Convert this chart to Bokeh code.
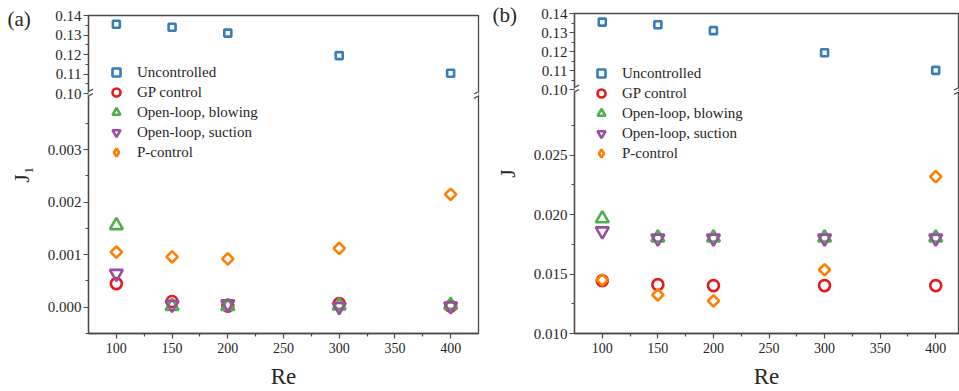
from bokeh.plotting import figure
from bokeh.layouts import row
from bokeh.models import Range1d, FixedTicker, Legend, LegendItem, Label, Arrow
from bokeh.embed import file_html
from bokeh.resources import INLINE
import math

# ---------------- data ----------------
re_vals = [100, 150, 200, 300, 400]
series_names = ["Uncontrolled", "GP control", "Open-loop, blowing",
                "Open-loop, suction", "P-control"]

# panel (a): J1
a_uncontrolled = [0.1355, 0.1340, 0.1310, 0.1195, 0.1105]
a_gp = [0.00045, 0.00011, 0.00002, 0.00007, 0.00002]
a_blowing = [0.00156, 0.00002, 0.00002, 0.00003, 0.00004]
a_suction = [0.00064, 0.00005, 0.00006, 0.00001, 0.00002]
a_pcontrol = [0.00105, 0.00096, 0.00092, 0.00112, 0.00215]

# panel (b): J
b_uncontrolled = [0.1355, 0.1341, 0.1310, 0.1194, 0.1102]
b_gp = [0.01444, 0.01411, 0.01403, 0.01403, 0.01403]
b_blowing = [0.01967, 0.01806, 0.01806, 0.01806, 0.01806]
b_suction = [0.01861, 0.01800, 0.01800, 0.01800, 0.01800]
b_pcontrol = [0.01450, 0.01325, 0.01275, 0.01536, 0.02319]

# ticks
x_major = [100, 150, 200, 250, 300, 350, 400]
x_minor = [125, 175, 225, 275, 325, 375]
upper_major = [0.10, 0.11, 0.12, 0.13, 0.14]
upper_labels = ["0.10", "0.11", "0.12", "0.13", "0.14"]
upper_minor = [0.105, 0.115, 0.125, 0.135]
a_lower_major = [0.000, 0.001, 0.002, 0.003]
a_lower_labels = ["0.000", "0.001", "0.002", "0.003"]
a_lower_minor = [-0.0005, 0.0005, 0.0015, 0.0025, 0.0035]
b_lower_major = [0.010, 0.015, 0.020, 0.025]
b_lower_labels = ["0.010", "0.015", "0.020", "0.025"]
b_lower_minor = [0.0125, 0.0175, 0.0225, 0.0275]

colors = ["#377EB8", "#E41A1C", "#4DAF4A", "#984EA3", "#FF7F00"]
markers = ["square", "circle", "triangle", "inverted_triangle", "square"]
legend_markers = ["square", "circle", "triangle", "inverted_triangle", "diamond"]
angles = [0, 0, 0, 0, math.pi / 4]
sizes = [7, 11, 13, 13, 8]

WIN_H = 391
FONT = "Liberation Serif"
AX = "#4a4a4a"
TXT = "#262626"
BT = 30  # top border inside the figure (partly pushed above the window)


def make_panel(tag, ylabel, upper_vals, lower_series, x_end,
               lower_lo, lower_hi, upper_lo, upper_hi, break_frac,
               lower_major, lower_labels, lower_minor,
               width, bl, br, frame_top, bb, legend_xy, tag_xy):
    shift = BT - frame_top
    H = WIN_H + shift
    frame_w = width - bl - br
    frame_h = H - BT - bb
    lower_end = lower_lo + (lower_hi - lower_lo) / break_frac
    upper_start = upper_hi - (upper_hi - upper_lo) / (1 - break_frac)

    p = figure(width=width, height=H, x_range=Range1d(75, x_end),
               y_range=Range1d(lower_lo, lower_end),
               output_backend="svg", toolbar_location=None,
               min_border_left=bl, min_border_right=br,
               min_border_top=BT, min_border_bottom=bb,
               margin=(-shift, 0, 0, 0))
    p.extra_y_ranges = {"upper": Range1d(upper_start, upper_hi)}
    p.xgrid.visible = False
    p.ygrid.visible = False
    p.outline_line_color = AX
    p.outline_line_width = 1.3
    p.background_fill_color = "white"
    p.border_fill_color = "white"

    def up2low(u):
        return lower_lo + (u - upper_start) / (upper_hi - upper_start) * (lower_end - lower_lo)

    yt = list(lower_major) + [up2low(u) for u in upper_major]
    ym = list(lower_minor) + [up2low(u) for u in upper_minor]
    overrides = {}
    for t, l in zip(lower_major, lower_labels):
        overrides[t] = l
    for u, l in zip(upper_major, upper_labels):
        overrides[up2low(u)] = l

    yax = p.yaxis[0]
    yax.ticker = FixedTicker(ticks=yt, minor_ticks=ym)
    yax.major_label_overrides = overrides
    yax.axis_label = ylabel
    xax = p.xaxis[0]
    xax.ticker = FixedTicker(ticks=x_major, minor_ticks=x_minor)
    xax.axis_label = "Re"
    for ax in (xax, yax):
        ax.axis_line_color = AX
        ax.axis_line_width = 1.3
        ax.major_tick_line_color = AX
        ax.minor_tick_line_color = AX
        ax.major_tick_line_width = 1.2
        ax.minor_tick_line_width = 1.2
        ax.major_tick_in = 0
        ax.major_tick_out = 5
        ax.minor_tick_in = 0
        ax.minor_tick_out = 3
        ax.major_label_text_font = FONT
        ax.major_label_text_color = TXT
        ax.axis_label_text_font = FONT
        ax.axis_label_text_font_style = "normal"
        ax.axis_label_text_color = TXT
    yax.major_label_text_font_size = "15px"
    xax.major_label_text_font_size = "14px"
    yax.axis_label_text_font_size = "22px"
    xax.axis_label_text_font_size = "23px"
    yax.major_label_standoff = 2
    xax.major_label_standoff = 4
    yax.axis_label_standoff = 11
    xax.axis_label_standoff = 8

    renderers = []
    r = p.scatter(re_vals, upper_vals, y_range_name="upper", marker=markers[0],
                  size=sizes[0], angle=angles[0], fill_color=None,
                  line_color=colors[0], line_width=2.6)
    renderers.append(r)
    for vals, c, m, s, a in zip(lower_series, colors[1:], markers[1:], sizes[1:], angles[1:]):
        r = p.scatter(re_vals, vals, marker=m, size=s, angle=a, fill_color=None,
                      line_color=c, line_width=2.6)
        renderers.append(r)

    items = []
    for n, r, m, c, am in zip(series_names, renderers, markers, colors, legend_markers):
        if am != m:
            # legend-only glyph (never drawn in the plot area)
            r = p.scatter(x=[float("nan")], y=[float("nan")], marker=am, fill_color=None,
                          line_color=c, line_width=2.6)
        items.append(LegendItem(label=n, renderers=[r]))
    legend = Legend(items=items,
                    location=legend_xy, border_line_color=None, background_fill_alpha=0,
                    padding=0, margin=0, spacing=0, glyph_height=20, glyph_width=20,
                    label_height=20, label_standoff=11, label_text_font=FONT,
                    label_text_font_size="15px", label_text_color=TXT)
    p.add_layout(legend)

    # axis break marks
    xs = frame_w / (x_end - 75.0)
    ys = frame_h / (lower_end - lower_lo)
    g = 2.2
    for xd in (75.0, x_end):
        p.add_layout(Arrow(start=None, end=None, x_start=xd, y_start=lower_hi - g / ys,
                           x_end=xd, y_end=lower_hi + g / ys, line_color="white", line_width=4))
        for off in (-g, g):
            p.add_layout(Arrow(start=None, end=None,
                               x_start=xd - 4.5 / xs, y_start=lower_hi + (off - 2.5) / ys,
                               x_end=xd + 4.5 / xs, y_end=lower_hi + (off + 2.5) / ys,
                               line_color=AX, line_width=1.2))

    lab = Label(text=tag, text_baseline="middle", text_font=FONT,
                text_font_size="21px", text_color=TXT, x=tag_xy[0], y=tag_xy[1],
                x_units="screen", y_units="screen")
    p.add_layout(lab, "above")
    return p


pa = make_panel("(a)", "J\u2081", a_uncontrolled, [a_gp, a_blowing, a_suction, a_pcontrol], 425,
                -0.0005, 0.004066, 0.10, 0.14, 0.7539,
                a_lower_major, a_lower_labels, a_lower_minor,
                480, 88, 2, 15, 53, (18, 171), (-81, -3))
pb = make_panel("(b)", "J", b_uncontrolled, [b_gp, b_blowing, b_suction, b_pcontrol], 420.5,
                0.010, 0.0305, 0.10, 0.14, 0.7616,
                b_lower_major, b_lower_labels, b_lower_minor,
                479, 94, 1, 13, 55, (17, 170), (-82, -1))

layout = row(pa, pb)
open("out.html", "w").write(file_html(layout, INLINE))
